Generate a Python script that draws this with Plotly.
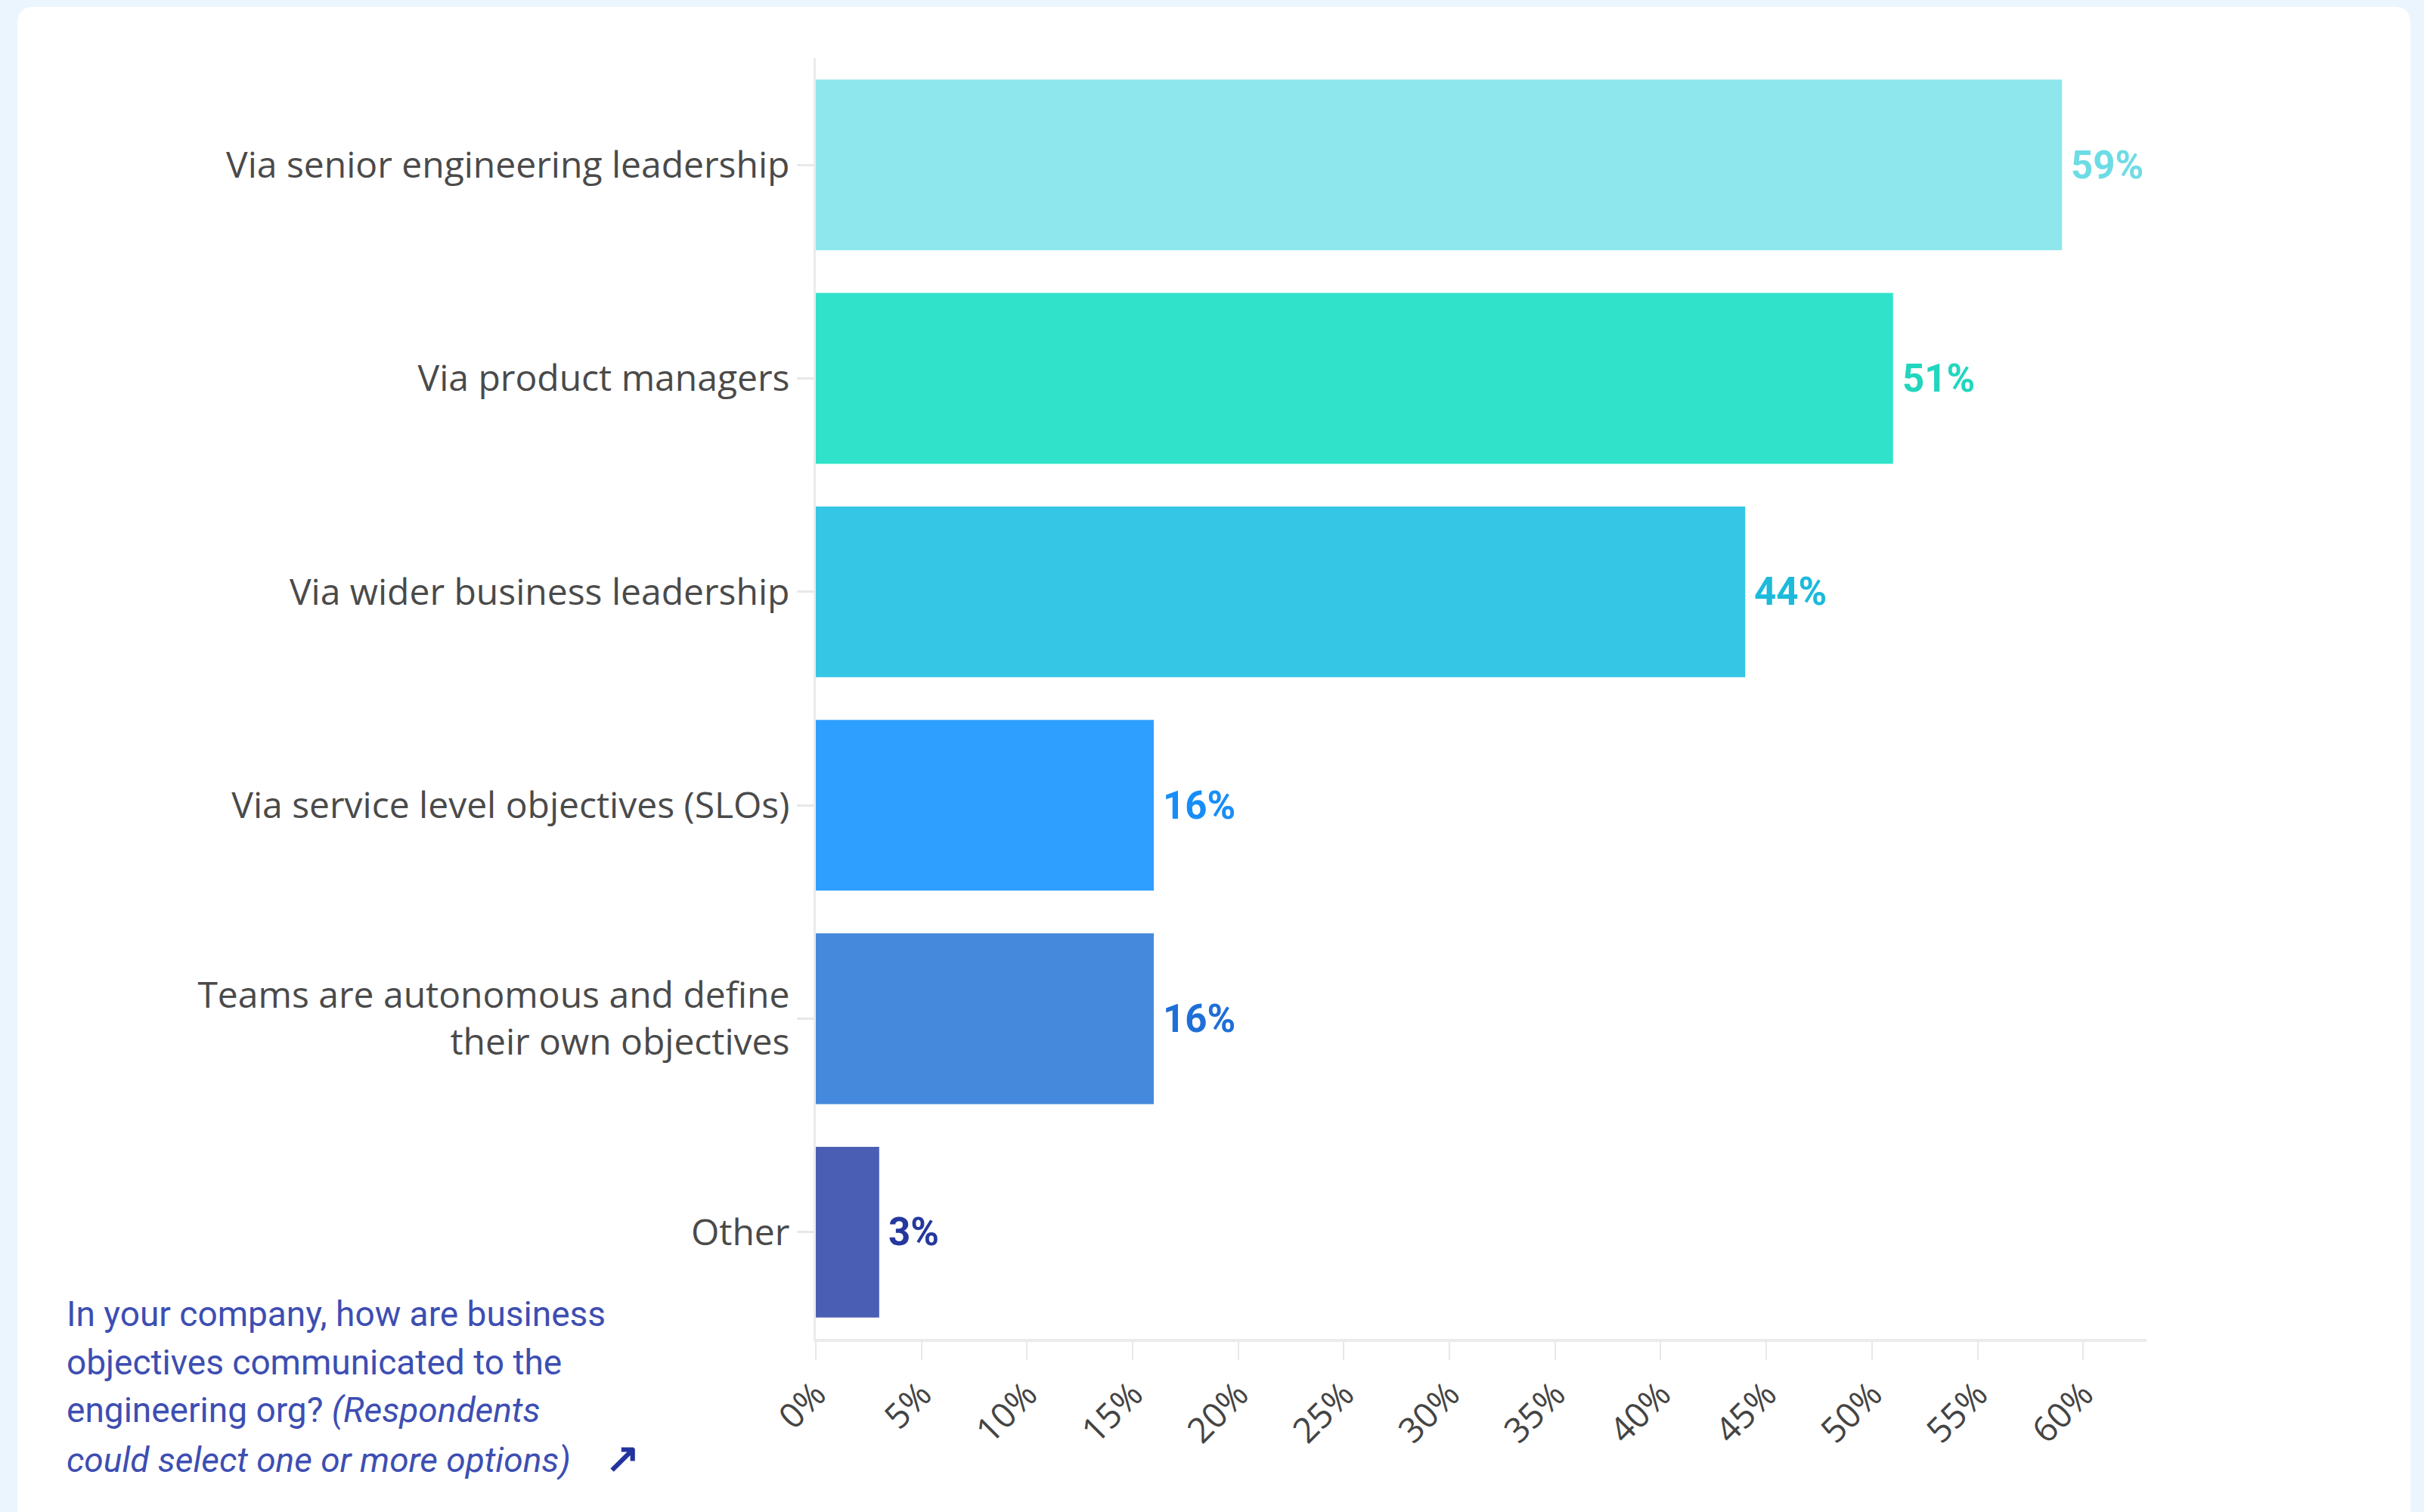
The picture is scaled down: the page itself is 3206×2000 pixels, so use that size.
import plotly.graph_objects as go

categories = [
    "Via senior engineering leadership",
    "Via product managers",
    "Via wider business leadership",
    "Via service level objectives (SLOs)",
    "Teams are autonomous and define<br>their own objectives",
    "Other",
]
values = [59, 51, 44, 16, 16, 3]
value_labels = ["59%", "51%", "44%", "16%", "16%", "3%"]
bar_colors = ["#8EE7EC", "#2FE2C9", "#34C6E4", "#2F9FFF", "#4589DC", "#4A5FB4"]
label_colors = ["#6DDCE5", "#22D6BE", "#1CBADB", "#178EF7", "#1F6FD6", "#24389E"]
tick_vals = list(range(0, 61, 5))
tick_text = [f"{v}%" for v in tick_vals]
question_lines = [
    "In your company, how are business",
    "objectives communicated to the",
    "engineering org? <i>(Respondents</i>",
    "<i>could select one or more options)</i>&nbsp;&nbsp;&nbsp;&nbsp;"
    "<span style='color:#22339E;font-size:54px'><b>↗</b></span>",
]

W, H = 3206, 2000
ML, MR, MT, MB = 1079, 367, 77, 229
PW = W - ML - MR
PH = H - MT - MB


def px_x(p):
    return (p - ML) / PW


def px_y(p):
    return (H - MB - p) / PH


fig = go.Figure()
fig.add_trace(go.Bar(
    x=values,
    y=categories,
    orientation="h",
    marker=dict(color=bar_colors, line=dict(width=0)),
    hoverinfo="skip",
))

# value labels
for c, v, t, col in zip(categories, values, value_labels, label_colors):
    fig.add_annotation(
        x=v, y=c, xref="x", yref="y", text=f"<b>{t}</b>",
        showarrow=False, xanchor="left", yanchor="middle", xshift=10,
        font=dict(family="Roboto", size=51, color=col),
    )

# card background
x0, x1 = px_x(23), px_x(3188)
y0, y1 = px_y(9), px_y(2060)
rx = 22 / PW
ry = 22 / PH
path = (f"M {x0+rx},{y0} L {x1-rx},{y0} Q {x1},{y0} {x1},{y0-ry} "
        f"L {x1},{y1} L {x0},{y1} L {x0},{y0-ry} Q {x0},{y0} {x0+rx},{y0} Z")
fig.add_shape(type="path", path=path, xref="paper", yref="paper",
              fillcolor="white", line=dict(width=0), layer="below")

line_centers = [1738, 1802, 1865, 1928]
for txt, yc in zip(question_lines, line_centers):
    fig.add_annotation(
        x=px_x(86), y=px_y(yc), xref="paper", yref="paper",
        text=txt, showarrow=False, xanchor="left", yanchor="middle", align="left",
        font=dict(family="Roboto", size=46, color="#3D4EB2"),
    )

fig.update_layout(
    width=W, height=H,
    margin=dict(l=ML, r=MR, t=MT, b=MB, pad=0),
    paper_bgcolor="#EBF5FE",
    plot_bgcolor="rgba(0,0,0,0)",
    showlegend=False,
    bargap=0.2,
    font=dict(family="Open Sans", color="#444444"),
    xaxis=dict(
        range=[0, 63],
        tickmode="array", tickvals=tick_vals, ticktext=tick_text,
        tickangle=-45,
        showgrid=False, zeroline=False,
        showline=True, linecolor="#EBEBEB", linewidth=4,
        ticks="outside", ticklen=24, tickwidth=2, tickcolor="#E8E8E8",
        tickfont=dict(family="Open Sans", size=46, color="#444444"),
        fixedrange=True,
    ),
    yaxis=dict(
        autorange="reversed",
        showgrid=False, zeroline=False,
        showline=True, linecolor="#EBEBEB", linewidth=3,
        ticks="outside", ticklen=22, tickwidth=3, tickcolor="#E8E8E8",
        tickfont=dict(family="Open Sans", size=48, color="#4A4A4A"),
        fixedrange=True,
    ),
)

fig.write_html("out.html")
